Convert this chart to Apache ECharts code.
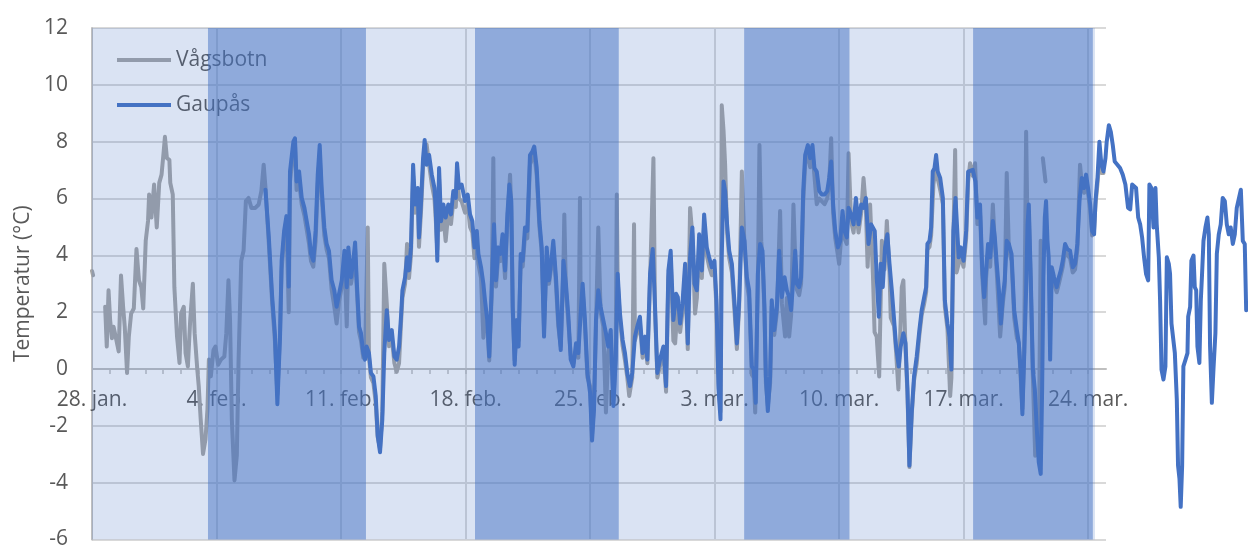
<!DOCTYPE html>
<html>
<head>
<meta charset="utf-8">
<title>Temperatur</title>
<script src="https://cdn.jsdelivr.net/npm/echarts@6/dist/echarts.min.js"></script>
<style>
    html, body { margin: 0; padding: 0; background: #fff; }
    #chart { width: 1248px; height: 547px; }
</style>
</head>
<body>
<div id="chart"></div>
<script>
// dager regnet fra 28. jan. (dag 0)
const tickLabels = ['28. jan.', '4. feb.', '11. feb.', '18. feb.', '25. feb.', '3. mar.', '10. mar.', '17. mar.', '24. mar.'];

// perioden med måledata (lys bakgrunn) og de mørke periodene
const period = [0, 56.38];
const darkBands = [[6.52, 15.4], [21.53, 29.61], [36.66, 42.58], [49.53, 56.26]];

// [dag, temperatur]
const vagsbotn = [
    [0, 3.45], [0.06, 3.3], [0.4, null],
    [0.74, 2.19], [0.83, 0.79], [0.93, 2.77], [1.02, 1.72], [1.12, 1.08], [1.21, 1.49], [1.37, 1.02], [1.5, 0.62],
    [1.63, 3.29], [1.75, 2.19], [1.84, 1.49], [1.97, -0.14], [2.07, 1.14], [2.2, 1.95], [2.35, 2.13], [2.5, 4.22],
    [2.64, 3.12], [2.77, 2.88], [2.88, 2.13], [3.02, 4.51], [3.15, 5.21], [3.21, 6.14], [3.34, 5.33], [3.49, 6.49],
    [3.64, 4.98], [3.78, 6.55], [3.91, 6.84], [4.02, 7.59], [4.1, 8.17], [4.21, 7.42], [4.35, 7.36], [4.4, 6.55],
    [4.54, 6.14], [4.63, 2.88], [4.78, 1.14], [4.92, 0.21], [5.01, 1.95], [5.16, 2.19], [5.26, 0.56], [5.39, 0.09],
    [5.52, 1.72], [5.67, 3.0], [5.77, 1.26], [5.92, -0.02], [6.0, -0.6], [6.11, -1.77], [6.24, -2.99], [6.38, -2.47],
    [6.49, -1.42], [6.57, 0.33], [6.68, -0.26], [6.83, 0.67], [6.94, 0.79], [7.09, 0.15], [7.25, 0.33], [7.44, 0.44],
    [7.55, 1.26], [7.67, 3.12], [7.76, 1.72], [7.86, -1.77], [8.01, -3.92], [8.14, -3.05], [8.24, 0.33], [8.39, 3.81],
    [8.52, 4.16], [8.65, 5.91], [8.8, 6.02], [8.96, 5.67], [9.18, 5.67], [9.37, 5.79], [9.52, 6.26], [9.65, 7.19],
    [9.75, 6.4], [9.94, 4.4], [10.13, 2.3], [10.28, 1.0], [10.42, -0.9], [10.57, 1.3], [10.66, 3.5], [10.8, 4.6],
    [10.93, 5.2], [11.06, 2.0], [11.13, 6.6], [11.32, 7.7], [11.41, 7.9], [11.5, 6.3], [11.64, 6.6], [11.79, 5.8],
    [11.94, 5.4], [12.07, 4.9], [12.2, 4.4], [12.31, 3.8], [12.44, 3.6], [12.57, 4.5], [12.69, 6.5], [12.8, 7.5],
    [12.91, 6.1], [13.06, 4.7], [13.19, 4.2], [13.32, 3.9], [13.47, 2.8], [13.62, 2.2], [13.75, 1.6], [13.89, 2.4],
    [14.04, 2.9], [14.19, 3.9], [14.32, 1.5], [14.41, 4.0], [14.56, 3.0], [14.69, 3.5], [14.79, 4.2], [14.88, 2.9],
    [15.01, 1.3], [15.12, 1.0], [15.25, 0.4], [15.35, 0.5], [15.5, 4.98], [15.57, 0.4], [15.68, -0.3], [15.82, -0.5],
    [15.95, -1.2], [16.06, -2.4], [16.19, -2.8], [16.32, -1.5], [16.43, 3.7], [16.57, 2.3], [16.7, 0.8], [16.85, 1.1],
    [17.0, 0.2], [17.13, -0.1], [17.26, 0.2], [17.37, 1.6], [17.45, 2.5], [17.6, 3.0], [17.71, 4.4], [17.82, 3.2],
    [17.93, 4.0], [18.05, 6.8], [18.16, 5.5], [18.31, 6.1], [18.38, 4.3], [18.5, 5.6], [18.61, 7.1], [18.7, 7.6],
    [18.81, 7.9], [18.95, 7.2], [19.1, 6.5], [19.25, 6.0], [19.32, 5.3], [19.41, 4.2], [19.51, 6.7], [19.62, 4.9],
    [19.75, 5.4], [19.88, 4.5], [20.03, 5.5], [20.18, 5.1], [20.31, 5.9], [20.45, 5.7], [20.52, 6.9], [20.63, 6.0],
    [20.78, 5.9], [20.97, 5.5], [21.12, 5.8], [21.25, 5.0], [21.38, 4.8], [21.5, 3.9], [21.63, 4.5], [21.72, 3.7],
    [21.87, 3.2], [22.0, 1.1], [22.09, 2.2], [22.22, 1.5], [22.33, 0.3], [22.47, 2.6], [22.56, 7.42], [22.6, 4.8],
    [22.71, 2.9], [22.84, 4.0], [22.97, 3.8], [23.08, 4.5], [23.22, 3.2], [23.35, 5.2], [23.5, 6.84], [23.57, 5.6],
    [23.65, 2.0], [23.76, 0.3], [23.87, 1.5], [23.98, 1.0], [24.1, 3.8], [24.21, 3.6], [24.34, 4.7], [24.47, 4.6],
    [24.62, 7.2], [24.75, 7.4], [24.86, 7.6], [25.0, 6.8], [25.15, 5.0], [25.28, 4.1], [25.41, 1.4], [25.56, 4.0],
    [25.69, 3.0], [25.82, 3.6], [25.93, 4.3], [26.08, 3.0], [26.21, 1.5], [26.35, 0.8], [26.5, 3.6], [26.55, 5.44],
    [26.64, 2.8], [26.78, 1.6], [26.91, 0.5], [27.06, 0.2], [27.21, 0.7], [27.34, 0.4], [27.43, 6.02], [27.47, 2.2],
    [27.58, 2.8], [27.71, 1.5], [27.85, -0.3], [28.0, -0.6], [28.11, -2.3], [28.22, -1.2], [28.33, 1.5], [28.46, 4.98],
    [28.59, 2.0], [28.74, 1.5], [28.89, -1.53], [29.02, 0.6], [29.16, 1.1], [29.31, -1.1], [29.44, 0.5], [29.5, 6.14],
    [29.55, 3.1], [29.68, 1.7], [29.83, 0.8], [29.96, 0.3], [30.09, -0.3], [30.2, -0.95], [30.37, -0.3], [30.47, 5.09],
    [30.52, 1.0], [30.65, 1.3], [30.8, 1.6], [30.95, 0.4], [31.09, 0.9], [31.22, 0.2], [31.37, 3.1], [31.56, 7.42],
    [31.65, 2.0], [31.78, -0.3], [31.93, 0.1], [32.12, 0.6], [32.27, -0.8], [32.4, 3.2], [32.53, 3.9], [32.68, 1.0],
    [32.78, 0.9], [32.93, 2.3], [33.06, 1.3], [33.19, 2.0], [33.34, 3.4], [33.49, 0.7], [33.62, 5.67], [33.75, 4.7],
    [33.9, 1.95], [34.0, 2.5], [34.13, 4.4], [34.28, 3.2], [34.41, 5.1], [34.56, 4.0], [34.69, 3.6], [34.84, 3.3],
    [34.99, 3.5], [35.1, 2.2], [35.22, -0.5], [35.33, -1.5], [35.4, 9.28], [35.5, 8.4], [35.59, 7.19], [35.7, 4.8],
    [35.82, 3.9], [35.97, 3.4], [36.12, 2.0], [36.25, 0.7], [36.38, 2.2], [36.53, 6.95], [36.68, 4.3], [36.81, 3.0],
    [36.94, 2.5], [37.09, -0.2], [37.2, -0.3], [37.28, -1.53], [37.43, 3.1], [37.52, 7.88], [37.62, 4.5], [37.69, 3.9],
    [37.8, 2.0], [37.88, -0.5], [37.99, -1.3], [38.12, -0.5], [38.21, 2.2], [38.35, 1.2], [38.5, 2.0], [38.68, 5.56],
    [38.78, 2.3], [38.96, 1.14], [39.06, 2.5], [39.19, 1.14], [39.3, 1.9], [39.43, 5.79], [39.53, 3.9], [39.62, 2.8],
    [39.75, 2.6], [39.86, 3.0], [39.98, 5.9], [40.09, 7.2], [40.24, 7.6], [40.37, 7.1], [40.5, 7.6], [40.61, 6.8],
    [40.74, 5.8], [40.88, 6.0], [41.03, 5.9], [41.18, 5.8], [41.33, 6.0], [41.44, 6.5], [41.55, 8.12], [41.66, 5.5],
    [41.78, 4.6], [41.93, 4.0], [42.0, 3.7], [42.19, 5.3], [42.3, 4.6], [42.43, 4.4], [42.53, 7.59], [42.67, 5.2],
    [42.81, 4.8], [42.94, 5.7], [43.09, 4.8], [43.24, 5.5], [43.37, 6.72], [43.5, 5.7], [43.6, 3.6], [43.74, 5.79],
    [43.9, 3.3], [43.99, 1.3], [44.11, 1.14], [44.25, -0.26], [44.4, 4.51], [44.55, 3.5], [44.68, 5.21], [44.83, 3.4],
    [44.9, 1.8], [45.09, 1.5], [45.2, 0.6], [45.33, -0.72], [45.52, 2.88], [45.61, 3.12], [45.73, 0.7], [45.84, -0.9],
    [45.95, -3.45], [46.08, -1.6], [46.21, -0.4], [46.36, 0.2], [46.51, 1.2], [46.64, 1.9], [46.78, 2.3], [46.89, 2.7],
    [46.96, 4.2], [47.08, 4.3], [47.17, 4.7], [47.3, 6.49], [47.45, 7.2], [47.54, 6.7], [47.68, 6.3], [47.83, 5.8],
    [47.94, 2.2], [48.09, 1.4], [48.24, -0.95], [48.31, -0.3], [48.42, 4.6], [48.52, 7.71], [48.6, 3.4], [48.72, 3.7],
    [48.84, 4.0], [48.99, 3.6], [49.14, 4.6], [49.25, 6.6], [49.36, 7.24], [49.51, 6.8], [49.64, 7.24], [49.77, 5.1],
    [49.92, 5.5], [50.04, 3.3], [50.21, 1.6], [50.26, 3.2], [50.37, 4.1], [50.49, 3.6], [50.64, 5.79], [50.75, 4.4],
    [50.86, 3.4], [51.05, 1.14], [51.2, 2.3], [51.31, 2.9], [51.42, 6.9], [51.54, 4.2], [51.69, 3.8], [51.84, 1.8],
    [51.99, 1.1], [52.1, 0.91], [52.21, -0.4], [52.3, -1.4], [52.4, 0.6], [52.51, 8.35], [52.59, 4.8], [52.66, 5.5],
    [52.77, 3.0], [52.89, -0.3], [53.02, -3.05], [53.11, -2.3], [53.22, -3.1], [53.33, 4.51], [53.4, null],
    [53.45, 7.42], [53.6, 6.6], [53.8, null],
    [54.08, 3.0], [54.23, 2.7], [54.35, 3.0], [54.46, 3.3], [54.57, 3.6], [54.7, 4.2], [54.83, 4.0], [54.98, 3.9],
    [55.13, 3.4], [55.26, 3.5], [55.39, 4.2], [55.54, 7.19], [55.64, 6.5], [55.77, 6.2], [55.88, 6.6], [55.99, 6.2],
    [56.11, 5.6], [56.22, 4.7], [56.33, 4.9], [56.41, 5.8], [56.52, 6.5], [56.63, 7.4], [56.74, 6.9], [56.86, 6.9]
];

const gaupas = [
    [9.75, 6.31], [9.94, 4.63], [10.13, 2.53], [10.28, 1.26], [10.42, -1.24], [10.57, 1.14], [10.66, 3.81], [10.8, 4.86],
    [10.93, 5.38], [11.0, 4.9], [11.06, 2.9], [11.13, 6.95], [11.32, 8.0], [11.41, 8.12], [11.5, 6.6], [11.64, 6.95],
    [11.79, 6.02], [11.94, 5.67], [12.07, 5.2], [12.2, 4.74], [12.31, 4.05], [12.44, 3.81], [12.57, 4.86], [12.69, 6.84],
    [12.8, 7.88], [12.91, 6.37], [13.06, 4.98], [13.19, 4.4], [13.32, 4.16], [13.47, 3.12], [13.62, 2.77], [13.75, 2.19],
    [13.89, 2.65], [14.04, 3.12], [14.19, 4.16], [14.32, 2.88], [14.41, 4.28], [14.56, 3.23], [14.69, 3.81], [14.79, 4.45],
    [14.88, 3.12], [15.01, 1.49], [15.12, 1.26], [15.25, 0.56], [15.35, 0.33], [15.44, 0.79], [15.57, 0.56], [15.68, -0.14],
    [15.82, -0.26], [15.95, -0.95], [16.06, -2.35], [16.19, -2.93], [16.32, -1.77], [16.43, 0.56], [16.57, 2.07], [16.7, 1.02],
    [16.85, 1.37], [17.0, 0.44], [17.13, 0.33], [17.26, 0.79], [17.37, 1.84], [17.45, 2.77], [17.6, 3.23], [17.71, 3.93],
    [17.82, 3.47], [17.93, 4.28], [18.05, 7.19], [18.16, 5.79], [18.31, 6.37], [18.38, 4.63], [18.5, 5.91], [18.61, 7.42],
    [18.7, 8.06], [18.81, 7.19], [18.95, 7.53], [19.1, 6.84], [19.25, 6.37], [19.32, 5.67], [19.41, 3.81], [19.51, 7.07],
    [19.62, 5.2], [19.75, 5.79], [19.88, 5.33], [20.03, 5.79], [20.18, 5.44], [20.31, 6.26], [20.45, 6.02], [20.52, 7.24],
    [20.63, 6.37], [20.78, 6.49], [20.97, 5.91], [21.12, 6.14], [21.25, 5.44], [21.38, 5.2], [21.5, 4.28], [21.63, 4.86],
    [21.72, 4.05], [21.87, 3.58], [22.0, 3.0], [22.09, 2.42], [22.22, 1.72], [22.33, 0.44], [22.47, 2.88], [22.6, 5.09],
    [22.71, 3.12], [22.84, 4.28], [22.97, 4.05], [23.08, 4.74], [23.22, 3.47], [23.35, 5.44], [23.46, 6.49], [23.57, 5.91],
    [23.65, 2.19], [23.76, 0.15], [23.87, 1.72], [23.98, 0.79], [24.1, 4.05], [24.21, 3.81], [24.34, 4.98], [24.47, 4.86],
    [24.62, 7.53], [24.75, 7.65], [24.86, 7.83], [25.0, 7.07], [25.15, 5.2], [25.28, 4.28], [25.41, 1.14], [25.56, 4.28],
    [25.69, 3.12], [25.82, 3.81], [25.93, 4.51], [26.08, 3.23], [26.21, 1.72], [26.35, 0.67], [26.5, 3.81], [26.64, 3.0],
    [26.78, 1.84], [26.91, 0.33], [27.06, 0.09], [27.21, 0.91], [27.34, 0.56], [27.47, 1.95], [27.58, 3.0], [27.71, 1.72],
    [27.85, -0.14], [28.0, -0.84], [28.11, -2.52], [28.22, -1.42], [28.33, 1.72], [28.46, 2.77], [28.59, 2.19], [28.74, 1.72],
    [28.89, 1.26], [29.02, 0.79], [29.16, 1.37], [29.31, -1.3], [29.44, 0.33], [29.55, 3.35], [29.68, 1.95], [29.83, 1.02],
    [29.96, 0.56], [30.09, -0.14], [30.24, -0.6], [30.37, -0.14], [30.52, 1.14], [30.65, 1.49], [30.8, 1.84], [30.95, 0.56],
    [31.09, 1.14], [31.22, 0.33], [31.37, 3.35], [31.52, 4.22], [31.65, 2.19], [31.78, -0.14], [31.93, 0.33], [32.12, 0.79],
    [32.27, -0.6], [32.4, 3.47], [32.53, 4.16], [32.68, 1.72], [32.83, 2.65], [32.93, 2.53], [33.06, 1.6], [33.19, 2.3],
    [33.34, 3.7], [33.49, 0.9], [33.62, 3.93], [33.75, 4.98], [33.87, 3.0], [34.0, 2.77], [34.13, 4.74], [34.28, 3.47],
    [34.41, 5.44], [34.56, 4.28], [34.69, 3.93], [34.84, 3.58], [34.99, 3.81], [35.1, 2.42], [35.22, -0.72], [35.33, -1.77],
    [35.4, 3.93], [35.5, 6.6], [35.59, 6.26], [35.7, 5.09], [35.82, 4.16], [35.97, 3.7], [36.12, 2.3], [36.25, 0.9],
    [36.38, 2.42], [36.53, 4.98], [36.68, 4.51], [36.81, 3.23], [36.94, 2.77], [37.09, 0.09], [37.2, -0.02], [37.31, -1.19],
    [37.43, 3.35], [37.56, 4.4], [37.69, 4.16], [37.8, 2.19], [37.88, -0.26], [37.99, -1.48], [38.12, -0.26], [38.21, 2.42],
    [38.35, 1.37], [38.5, 2.19], [38.63, 4.16], [38.78, 2.53], [38.93, 3.23], [39.06, 2.77], [39.19, 2.53], [39.3, 2.07],
    [39.43, 3.23], [39.53, 4.16], [39.62, 3.0], [39.75, 2.88], [39.86, 3.23], [39.98, 6.26], [40.09, 7.53], [40.24, 7.88],
    [40.37, 7.42], [40.5, 7.88], [40.61, 7.07], [40.74, 6.95], [40.88, 6.26], [41.03, 6.14], [41.18, 6.14], [41.33, 6.26],
    [41.44, 6.72], [41.55, 7.3], [41.66, 5.79], [41.78, 4.86], [41.93, 4.28], [42.06, 4.51], [42.19, 5.56], [42.3, 4.86],
    [42.43, 4.63], [42.53, 5.67], [42.67, 5.44], [42.81, 5.09], [42.94, 6.02], [43.09, 5.09], [43.24, 5.79], [43.37, 5.67],
    [43.5, 6.02], [43.65, 4.4], [43.8, 5.09], [43.89, 5.15], [44.0, 4.86], [44.11, 3.23], [44.23, 1.84], [44.34, 3.7],
    [44.45, 2.88], [44.58, 4.28], [44.71, 4.74], [44.83, 3.7], [44.96, 2.77], [45.09, 1.72], [45.2, 0.79], [45.35, 0.09],
    [45.46, 0.79], [45.61, 1.26], [45.73, 0.91], [45.84, -0.72], [45.95, -3.4], [46.08, -1.53], [46.21, -0.26], [46.36, 0.44],
    [46.51, 1.37], [46.64, 2.07], [46.78, 2.53], [46.89, 2.88], [46.96, 4.4], [47.08, 4.51], [47.17, 4.98], [47.26, 6.95],
    [47.36, 7.07], [47.45, 7.53], [47.54, 6.95], [47.68, 6.72], [47.83, 6.02], [47.94, 2.42], [48.09, 1.6], [48.2, 1.14],
    [48.31, -0.02], [48.42, 4.86], [48.54, 6.02], [48.65, 6.02], [48.72, 3.93], [48.84, 4.28], [48.99, 3.81], [49.14, 4.86],
    [49.25, 6.95], [49.36, 6.95], [49.51, 7.01], [49.66, 6.6], [49.77, 5.33], [49.92, 5.79], [50.04, 3.58], [50.15, 2.53],
    [50.26, 3.47], [50.37, 4.4], [50.49, 3.93], [50.64, 5.21], [50.75, 4.63], [50.86, 3.7], [50.98, 2.77], [51.09, 1.6],
    [51.2, 2.53], [51.31, 3.12], [51.42, 4.51], [51.54, 4.4], [51.69, 4.05], [51.84, 2.07], [51.99, 1.37], [52.1, 0.91],
    [52.21, -0.14], [52.3, -1.59], [52.4, 0.44], [52.51, 2.77], [52.59, 5.09], [52.66, 5.79], [52.77, 3.23], [52.89, -0.02],
    [53.0, -0.72], [53.11, -2.12], [53.22, -3.28], [53.33, -3.69], [53.41, -0.72], [53.48, 3.23], [53.56, 5.33], [53.63, 5.91],
    [53.71, 4.51], [53.78, 3.93], [53.86, 0.33], [53.95, 3.58], [54.08, 3.23], [54.23, 2.88], [54.35, 3.23], [54.46, 3.47],
    [54.57, 3.81], [54.7, 4.4], [54.83, 4.22], [54.98, 4.16], [55.13, 3.58], [55.26, 3.7], [55.39, 4.4], [55.51, 5.91],
    [55.64, 6.72], [55.77, 6.37], [55.88, 6.84], [55.99, 6.37], [56.11, 5.79], [56.22, 4.86], [56.33, 4.74], [56.41, 5.91],
    [56.52, 6.72], [56.63, 8.0], [56.74, 7.19], [56.86, 6.95], [56.97, 7.42], [57.04, 8.0], [57.16, 8.58], [57.27, 8.35],
    [57.38, 7.88], [57.49, 7.3], [57.64, 7.19], [57.79, 7.07], [57.94, 6.84], [58.09, 6.49], [58.24, 5.67], [58.36, 5.62],
    [58.47, 6.49], [58.58, 6.49], [58.69, 6.37], [58.81, 5.33], [58.92, 5.09], [59.03, 4.63], [59.14, 3.93], [59.25, 3.35],
    [59.37, 3.12], [59.44, 6.49], [59.55, 6.37], [59.67, 4.98], [59.78, 6.37], [59.85, 5.09], [59.97, 3.93], [60.04, 2.42],
    [60.12, -0.02], [60.23, -0.37], [60.34, 0.09], [60.42, 3.93], [60.53, 3.7], [60.6, 3.35], [60.68, 1.6], [60.79, 1.6],
    [60.87, 0.56], [60.98, -1.07], [61.05, -3.4], [61.13, -3.86], [61.2, -4.85], [61.28, -3.4], [61.35, 0.09], [61.47, 0.33],
    [61.58, 0.56], [61.62, 1.84], [61.73, 2.19], [61.8, 3.81], [61.92, 3.99], [61.99, 2.88], [62.07, 2.77], [62.14, 0.79],
    [62.25, 0.21], [62.33, 2.42], [62.4, 3.35], [62.48, 4.51], [62.59, 4.98], [62.7, 5.33], [62.78, 4.74], [62.85, 0.79],
    [62.95, -1.19], [63.04, -0.02], [63.15, 1.26], [63.23, 4.05], [63.34, 4.74], [63.45, 5.09], [63.56, 6.02], [63.68, 5.91],
    [63.79, 5.09], [63.9, 4.74], [64.01, 4.98], [64.13, 4.4], [64.24, 4.74], [64.35, 5.67], [64.46, 5.67], [64.58, 6.31],
    [64.69, 4.51], [64.8, 4.4], [64.88, 2.07]
];

const axisMax = 57;
const yMin = -6;
const yMax = 12;
const textColor = '#595959';
const fontFamily = '"Open Sans", "Liberation Sans", sans-serif';

// plottet: 92..1106 px bredt, 28..539.5 px høyt
const plotTop = 28;
const plotBottom = 7.5;
const zeroBottom = 547 - (plotTop + (547 - plotTop - plotBottom) * yMax / (yMax - yMin));

const myChart = echarts.init(document.getElementById('chart'), null, { renderer: 'canvas' });

const option = {
    animation: false,
    textStyle: { fontFamily: fontFamily },
    legend: {
        data: ['Vågsbotn', 'Gaupås'],
        orient: 'vertical',
        left: 117,
        top: 48,
        padding: 0,
        icon: 'rect',
        itemWidth: 54,
        itemHeight: 4,
        itemGap: 21,
        textStyle: { fontSize: 21, color: textColor, lineHeight: 24, fontFamily: fontFamily }
    },
    grid: [
        { left: 92, right: 142, top: plotTop, bottom: plotBottom, outerBoundsMode: 'none', containLabel: false },
        // Gaupås går videre til høyre utenfor selve plottet
        { left: 92, right: 0, top: plotTop, bottom: plotBottom, outerBoundsMode: 'none', containLabel: false },
        // tidsaksen ligger på 0-linjen
        { left: 92, right: 142, top: plotTop, bottom: zeroBottom, outerBoundsMode: 'none', containLabel: false }
    ],
    xAxis: [{
        type: 'value',
        gridIndex: 0,
        min: 0,
        max: axisMax,
        interval: 7,
        axisLine: { show: false },
        axisTick: { show: false },
        axisLabel: { show: false },
        splitLine: { show: true, showMaxLine: false, lineStyle: { color: '#d9d9d9', width: 2 } }
    }, {
        type: 'value',
        gridIndex: 1,
        min: 0,
        max: axisMax * 1156 / 1014,
        show: false
    }, {
        type: 'value',
        gridIndex: 2,
        min: 0,
        max: axisMax,
        interval: 1,
        position: 'bottom',
        axisLine: { show: true, onZero: false, lineStyle: { color: '#bfbfbf', width: 2 } },
        axisTick: { show: true, length: 5, lineStyle: { color: '#bfbfbf', width: 1.5 } },
        axisLabel: {
            margin: 21,
            fontSize: 21,
            color: textColor,
            fontFamily: fontFamily,
            showMinLabel: true,
            showMaxLabel: false,
            formatter: (v) => (v % 7 === 0 && tickLabels[v / 7]) ? tickLabels[v / 7] : ''
        },
        splitLine: { show: false }
    }],
    yAxis: [{
        type: 'value',
        gridIndex: 0,
        min: yMin,
        max: yMax,
        interval: 2,
        name: 'Temperatur (°C)',
        nameLocation: 'middle',
        nameGap: 58,
        nameTextStyle: { fontSize: 21, color: textColor, fontFamily: fontFamily },
        axisLine: { show: true, onZero: false, lineStyle: { color: '#bfbfbf', width: 2 } },
        axisTick: { show: false },
        axisLabel: { margin: 24, fontSize: 21, color: textColor, fontFamily: fontFamily },
        splitLine: { show: true, lineStyle: { color: '#d9d9d9', width: 2 } }
    }, {
        type: 'value',
        gridIndex: 1,
        min: yMin,
        max: yMax,
        show: false
    }, {
        type: 'value',
        gridIndex: 2,
        min: 0,
        max: yMax,
        show: false
    }],
    series: [{
        name: 'Vågsbotn',
        type: 'line',
        xAxisIndex: 0,
        yAxisIndex: 0,
        data: vagsbotn,
        symbol: 'none',
        connectNulls: false,
        color: '#a5a5a5',
        lineStyle: { color: '#a5a5a5', width: 4, join: 'round', cap: 'round' }
    }, {
        name: 'Gaupås',
        type: 'line',
        xAxisIndex: 1,
        yAxisIndex: 1,
        data: gaupas,
        symbol: 'none',
        color: '#4472c4',
        lineStyle: { color: '#4472c4', width: 4, join: 'round', cap: 'round' }
    }, {
        // lys bakgrunn for måleperioden, lagt oppå alt
        name: 'periode',
        type: 'line',
        xAxisIndex: 0,
        yAxisIndex: 0,
        data: [],
        z: 100,
        silent: true,
        markArea: {
            silent: true,
            z: 100,
            itemStyle: { color: 'rgba(68,114,196,0.2)' },
            data: [[{ xAxis: period[0] }, { xAxis: period[1] }]]
        }
    }, {
        name: 'mørke perioder',
        type: 'line',
        xAxisIndex: 0,
        yAxisIndex: 0,
        data: [],
        z: 101,
        silent: true,
        markArea: {
            silent: true,
            z: 101,
            itemStyle: { color: 'rgba(68,114,196,0.5)' },
            data: darkBands.map(b => [{ xAxis: b[0] }, { xAxis: b[1] }])
        }
    }]
};

myChart.setOption(option);
window.onresize = () => {
    myChart.resize();
};
</script>
</body>
</html>
